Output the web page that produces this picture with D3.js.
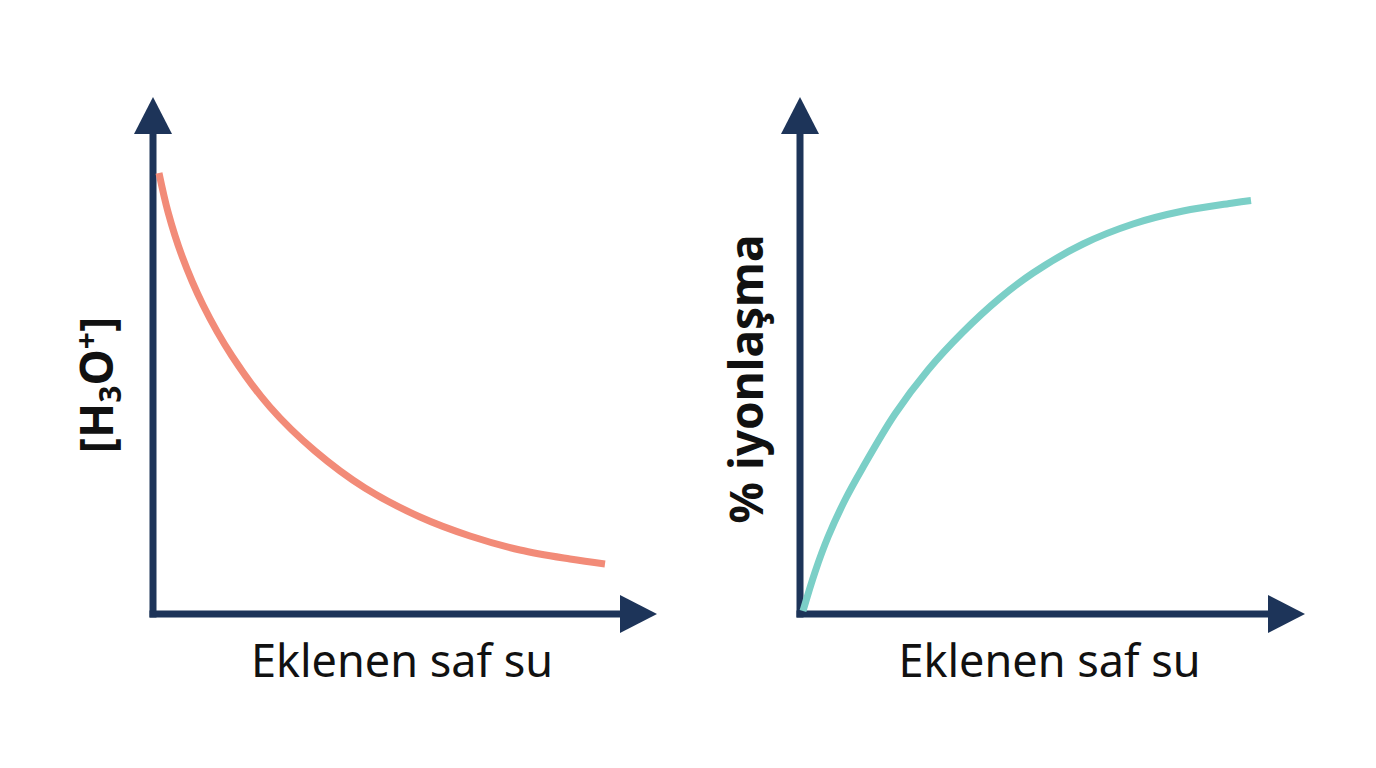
<!DOCTYPE html>
<html><head><meta charset="utf-8">
<script src="https://cdn.jsdelivr.net/npm/d3@7"></script>
<style>html,body{margin:0;padding:0;background:#fff;}svg{display:block;}</style>
</head><body>
<svg id="c" width="1376" height="768"></svg>
<script>
// Data (arbitrary units, 0-100 on each axis)
const leftX = [1.19, 2.98, 5.75, 9.92, 15.67, 23.21, 32.14, 42.06, 52.98, 62.90, 72.82, 82.74, 89.68];
const leftY = [85.30, 77.76, 69.25, 59.77, 49.90, 40.04, 31.53, 24.37, 18.76, 15.09, 12.38, 10.64, 9.67];
const rightX = [0.59, 2.97, 5.54, 8.91, 12.28, 18.81, 25.35, 32.08, 39.60, 46.14, 56.04, 65.94, 75.84, 85.74, 89.31];
const rightY = [0.58, 8.12, 14.89, 22.05, 28.05, 38.68, 47.20, 54.35, 61.12, 65.96, 71.57, 75.44, 77.95, 79.50, 79.98];
const xLabels = ["Eklenen saf su", "Eklenen saf su"];
const yLabels = ["[H3O+]", "% iyonlaşma"];

const svg = d3.select("#c");
const navy = "#1d3459";
const panels = [
  {x0: 153, x1: 657, xs: leftX, ys: leftY, color: "#f28b78", xl: xLabels[0], yl: yLabels[0], ylx: 113},
  {x0: 800, x1: 1305, xs: rightX, ys: rightY, color: "#7bcfc7", xl: xLabels[1], yl: yLabels[1], ylx: 763}
];
const yTop = 97, yBot = 614;

panels.forEach((p, i) => {
  const x = d3.scaleLinear().domain([0, 100]).range([p.x0, p.x1]);
  const y = d3.scaleLinear().domain([0, 100]).range([yBot, yTop]);
  const g = svg.append("g");
  const ah = 37, aw = 19;
  // axes lines
  g.append("line").attr("x1", x(0)).attr("x2", x(0)).attr("y1", y(0) + 3.5).attr("y2", y(100) + ah - 1)
    .attr("stroke", navy).attr("stroke-width", 7);
  g.append("line").attr("x1", x(0) - 3.5).attr("x2", x(100) - ah + 1).attr("y1", y(0)).attr("y2", y(0))
    .attr("stroke", navy).attr("stroke-width", 7);
  // arrowheads
  g.append("path").attr("fill", navy)
    .attr("d", `M${x(0)},${y(100)} L${x(0) + aw},${y(100) + ah} L${x(0) - aw},${y(100) + ah} Z`);
  g.append("path").attr("fill", navy)
    .attr("d", `M${x(100)},${y(0)} L${x(100) - ah},${y(0) - aw} L${x(100) - ah},${y(0) + aw} Z`);
  // curve
  const pts = p.xs.map((v, k) => [v, p.ys[k]]);
  g.append("path").datum(pts)
    .attr("d", d3.line().x(d => x(d[0])).y(d => y(d[1])).curve(d3.curveCatmullRom.alpha(0.5)))
    .attr("fill", "none").attr("stroke", p.color).attr("stroke-width", 7).attr("stroke-linecap", "butt");
  // x label
  g.append("text").attr("x", (x(0) + x(100)) / 2 - 3).attr("y", 677)
    .attr("text-anchor", "middle").attr("font-family", "Noto Sans, sans-serif")
    .attr("font-size", 45).attr("fill", "#111").text(p.xl);
  // y label
  const cy = i === 0 ? 385 : 379;
  const t = g.append("text").attr("transform", `translate(${p.ylx},${cy}) rotate(-90)`)
    .attr("text-anchor", "middle").attr("font-family", "Noto Sans, sans-serif")
    .attr("font-weight", "bold").attr("font-size", 46).attr("fill", "#111");
  if (i === 0) {
    t.append("tspan").text("[H");
    t.append("tspan").attr("font-size", 30).attr("dy", 8).text("3");
    t.append("tspan").attr("dy", -8).text("O");
    t.append("tspan").attr("font-size", 30).attr("dy", -16).text("+");
    t.append("tspan").attr("dy", 16).text("]");
  } else {
    t.text(p.yl);
  }
});
</script>
</body></html>
